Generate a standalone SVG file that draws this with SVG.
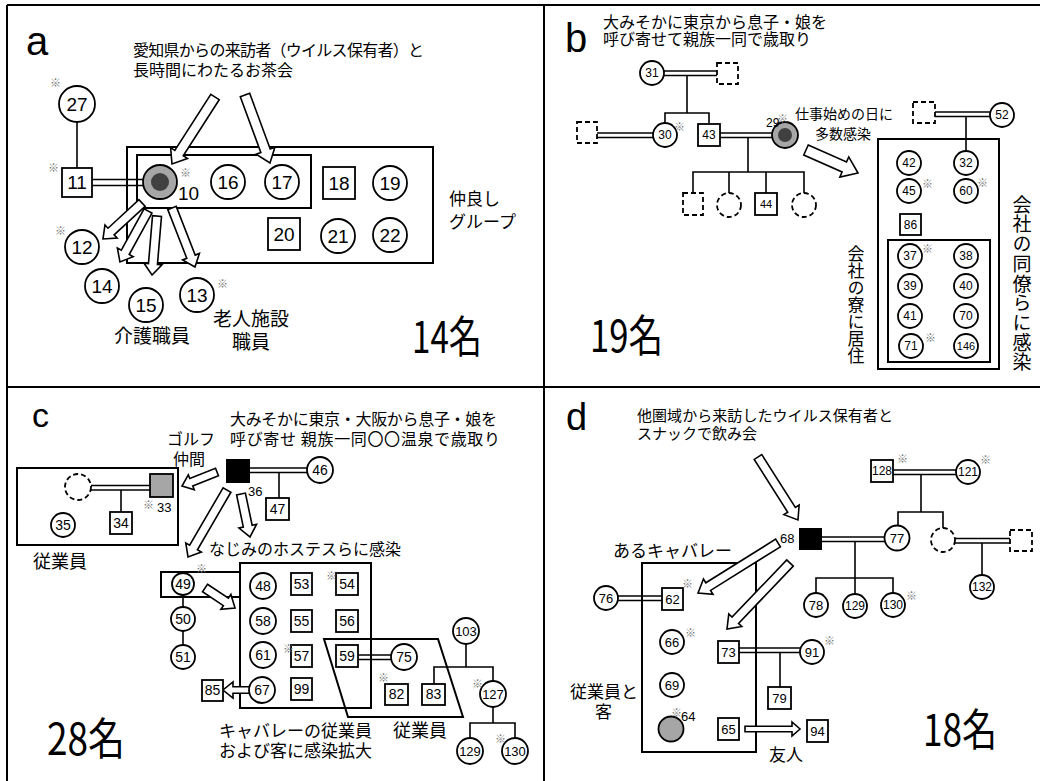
<svg xmlns="http://www.w3.org/2000/svg" width="1040" height="781" viewBox="0 0 1040 781">
<style>
.frame{stroke:#000;stroke-width:2;fill:none}
.ln{stroke:#000;stroke-width:1.6;fill:none}
.nd{fill:#fff;stroke:#000;stroke-width:1.8}
.ds{fill:#fff;stroke:#000;stroke-width:1.8;stroke-dasharray:5 3}
.bx{fill:none;stroke:#000;stroke-width:2}
.ar{fill:#fff;stroke:#000;stroke-width:1.6;stroke-linejoin:miter}
.jp{font-family:"Noto Sans CJK JP","Noto Sans",sans-serif;fill:#000}
.vt{writing-mode:vertical-rl;text-orientation:upright}
.lt{font-family:"Liberation Sans",Arial,sans-serif;fill:#000}
.num{font-family:"Liberation Sans",Arial,sans-serif;fill:#000;text-anchor:middle}
.na{font-size:19px}.nb{font-size:12px}.nc{font-size:14px}.ndd{font-size:13px}
.mk{font-family:"Noto Sans CJK JP",sans-serif;fill:#777;font-size:11px}
.big{font-family:"Noto Sans CJK JP",sans-serif;font-size:44px;fill:#000}
</style>

<g id="frame">
<line class="frame" x1="7" y1="5" x2="1040" y2="5"/>
<line class="frame" x1="7" y1="5" x2="7" y2="781"/>
<line class="frame" x1="544" y1="5" x2="544" y2="781"/>
<line class="frame" x1="7" y1="387" x2="1040" y2="387"/>
</g>

<!-- ============ Section a ============ -->
<g id="sec-a-text">
<text class="lt" x="26" y="55" font-size="40">a</text>
<text class="jp" font-size="16"><tspan x="133" y="56" textLength="291">愛知県からの来訪者（ウイルス保有者）と</tspan><tspan x="133" y="76">長時間にわたるお茶会</tspan></text>
<text class="jp" font-size="17"><tspan x="449" y="205">仲良し</tspan><tspan x="449" y="228">グループ</tspan></text>
<text class="jp" x="114" y="343" font-size="19">介護職員</text>
<text class="jp" font-size="19"><tspan x="213" y="326">老人施設</tspan><tspan x="232" y="349">職員</tspan></text>
<text class="big" x="412" y="353" textLength="70" lengthAdjust="spacingAndGlyphs">14名</text>
</g>
<g id="a-boxes">
<rect class="bx" x="127" y="147" width="306" height="116"/>
<rect class="bx" x="137" y="155" width="174" height="53"/>
</g>
<g id="a-connectors">
<line class="ln" x1="77" y1="122" x2="77" y2="168"/>
<line class="ln" x1="92" y1="179.5" x2="143" y2="179.5"/>
<line class="ln" x1="92" y1="185.5" x2="143" y2="185.5"/>
<polygon class="ar" transform="translate(215,97) rotate(122.7)" points="0,-5 66.6,-5 66.6,-10 79.6,0 66.6,10 66.6,5 0,5"/>
<polygon class="ar" transform="translate(245,95) rotate(69.8)" points="0,-5 59.4,-5 59.4,-10 72.4,0 59.4,10 59.4,5 0,5"/>
<polygon class="ar" transform="translate(142,203) rotate(137.3)" points="0,-4.5 42.1,-4.5 42.1,-9 53.1,0 42.1,9 42.1,4.5 0,4.5"/>
<polygon class="ar" transform="translate(148,211) rotate(118.8)" points="0,-4.5 47.2,-4.5 47.2,-9 58.2,0 47.2,9 47.2,4.5 0,4.5"/>
<polygon class="ar" transform="translate(157,216) rotate(94.8)" points="0,-4.5 48.2,-4.5 48.2,-9 59.2,0 48.2,9 48.2,4.5 0,4.5"/>
<polygon class="ar" transform="translate(172,208) rotate(68.7)" points="0,-4.5 52.3,-4.5 52.3,-9 63.3,0 52.3,9 52.3,4.5 0,4.5"/>
</g>
<g id="n27"><circle class="nd" cx="77" cy="104" r="18"/><text class="num na" x="77" y="111">27</text><text class="mk" x="50" y="87">※</text></g>
<g id="n11"><rect class="nd" x="62" y="168" width="30" height="29"/><text class="num na" x="77" y="189">11</text><text class="mk" x="48" y="172">※</text></g>
<g id="n10"><circle cx="160" cy="182" r="17" fill="#a6a6a6" stroke="#000" stroke-width="1.8"/><circle cx="160" cy="182" r="9" fill="#404040"/><text class="lt" x="178" y="200" font-size="19">10</text><text class="mk" x="180" y="177">※</text></g>
<g id="n16"><circle class="nd" cx="228" cy="182" r="17"/><text class="num na" x="228" y="189">16</text></g>
<g id="n17"><circle class="nd" cx="282" cy="182" r="17"/><text class="num na" x="282" y="189">17</text></g>
<g id="n18"><rect class="nd" x="323" y="167" width="32" height="32"/><text class="num na" x="339" y="190">18</text></g>
<g id="n19"><circle class="nd" cx="390" cy="183" r="17"/><text class="num na" x="390" y="190">19</text></g>
<g id="n20"><rect class="nd" x="268" y="218" width="32" height="32"/><text class="num na" x="284" y="241">20</text></g>
<g id="n21"><circle class="nd" cx="338" cy="236" r="17"/><text class="num na" x="338" y="243">21</text></g>
<g id="n22"><circle class="nd" cx="390" cy="235" r="17"/><text class="num na" x="390" y="242">22</text></g>
<g id="n12"><circle class="nd" cx="82" cy="247" r="17"/><text class="num na" x="82" y="254">12</text><text class="mk" x="55" y="235">※</text></g>
<g id="n14"><circle class="nd" cx="102" cy="286" r="17"/><text class="num na" x="102" y="293">14</text></g>
<g id="n15"><circle class="nd" cx="146" cy="305" r="17"/><text class="num na" x="146" y="312">15</text></g>
<g id="n13"><circle class="nd" cx="197" cy="295" r="17"/><text class="num na" x="197" y="302">13</text><text class="mk" x="217" y="288">※</text></g>

<!-- ============ Section b ============ -->
<g id="sec-b-text">
<text class="lt" x="565" y="52" font-size="40">b</text>
<text class="jp" font-size="16"><tspan x="603" y="28">大みそかに東京から息子・娘を</tspan><tspan x="603" y="45">呼び寄せて親族一同で歳取り</tspan></text>
<text class="jp" font-size="14"><tspan x="795" y="119">仕事始めの日に</tspan><tspan x="815" y="139">多数感染</tspan></text>
<text class="jp vt" x="856" y="245" font-size="17">会社の寮に居住</text>
<text class="jp vt" x="1022" y="195" font-size="19" letter-spacing="0.7">会社の同僚らに感染</text>
<text class="big" x="590" y="352" textLength="73" lengthAdjust="spacingAndGlyphs">19名</text>
</g>
<g id="b-boxes">
<rect class="bx" x="878" y="139" width="121" height="230"/>
<rect class="bx" x="888" y="240" width="102" height="122"/>
</g>
<g id="b-connectors">
<line class="ln" x1="664" y1="71" x2="717" y2="71"/>
<line class="ln" x1="664" y1="75.5" x2="717" y2="75.5"/>
<polyline class="ln" points="687,75.5 687,113"/>
<polyline class="ln" points="665,123 665,113 709,113 709,123"/>
<line class="ln" x1="597" y1="133" x2="653" y2="133"/>
<line class="ln" x1="597" y1="137.5" x2="653" y2="137.5"/>
<line class="ln" x1="720" y1="133" x2="772" y2="133"/>
<line class="ln" x1="720" y1="137.5" x2="772" y2="137.5"/>
<line class="ln" x1="748" y1="137.5" x2="748" y2="172"/>
<polyline class="ln" points="693,193 693,172 804,172 804,193"/>
<line class="ln" x1="729" y1="172" x2="729" y2="193"/>
<line class="ln" x1="766" y1="172" x2="766" y2="193"/>
<line class="ln" x1="935" y1="112" x2="990" y2="112"/>
<line class="ln" x1="935" y1="116.5" x2="990" y2="116.5"/>
<line class="ln" x1="966" y1="116.5" x2="966" y2="151"/>
<polygon class="ar" transform="translate(806,150) rotate(23.9)" points="0,-5.5 41.9,-5.5 41.9,-11 56.9,0 41.9,11 41.9,5.5 0,5.5"/>
</g>
<g id="n31"><circle class="nd" cx="652" cy="73" r="12"/><text class="num nb" x="652" y="77">31</text></g>
<g id="b-unk1"><rect class="ds" x="717" y="63" width="21" height="21"/></g>
<g id="b-unk2"><rect class="ds" x="577" y="122" width="20" height="21"/></g>
<g id="n30"><circle class="nd" cx="665" cy="135" r="12"/><text class="num nb" x="665" y="139">30</text><text class="mk" x="674" y="131" font-size="10">※</text></g>
<g id="n43"><rect class="nd" x="698" y="124" width="22" height="22"/><text class="num nb" x="709" y="139">43</text></g>
<g id="n29"><circle cx="785" cy="135" r="13" fill="#a6a6a6" stroke="#000" stroke-width="1.8"/><circle cx="785" cy="135" r="7" fill="#404040"/><text class="lt" x="766" y="127" font-size="12">29</text><text class="mk" x="777" y="123" font-size="10">※</text></g>
<g id="b-unk3"><rect class="ds" x="683" y="193" width="20" height="22"/></g>
<g id="b-unk4"><circle class="ds" cx="729" cy="205" r="12"/></g>
<g id="n44"><rect class="nd" x="755" y="193" width="22" height="22"/><text class="num" x="766" y="208" font-size="11">44</text></g>
<g id="b-unk5"><circle class="ds" cx="804" cy="205" r="12"/></g>
<g id="b-unk6"><rect class="ds" x="913" y="102" width="22" height="21"/></g>
<g id="n52"><circle class="nd" cx="1002" cy="115" r="12"/><text class="num nb" x="1002" y="119">52</text></g>
<g id="n42"><circle class="nd" cx="909" cy="163" r="12"/><text class="num nb" x="909" y="167">42</text></g>
<g id="n32"><circle class="nd" cx="966" cy="163" r="12"/><text class="num nb" x="966" y="167">32</text></g>
<g id="n45"><circle class="nd" cx="909" cy="191" r="12"/><text class="num nb" x="909" y="195">45</text><text class="mk" x="922" y="188" font-size="10">※</text></g>
<g id="n60"><circle class="nd" cx="966" cy="191" r="12"/><text class="num nb" x="966" y="195">60</text><text class="mk" x="977" y="187" font-size="10">※</text></g>
<g id="n86"><rect class="nd" x="900" y="214" width="21" height="21"/><text class="num nb" x="910.5" y="229">86</text></g>
<g id="n37"><circle class="nd" cx="910" cy="256" r="12"/><text class="num nb" x="910" y="260">37</text><text class="mk" x="922" y="253" font-size="10">※</text></g>
<g id="n38"><circle class="nd" cx="966" cy="256" r="12"/><text class="num nb" x="966" y="260">38</text></g>
<g id="n39"><circle class="nd" cx="910" cy="286" r="12"/><text class="num nb" x="910" y="290">39</text></g>
<g id="n40"><circle class="nd" cx="966" cy="286" r="12"/><text class="num nb" x="966" y="290">40</text></g>
<g id="n41"><circle class="nd" cx="910" cy="316" r="12"/><text class="num nb" x="910" y="320">41</text></g>
<g id="n70"><circle class="nd" cx="966" cy="316" r="12"/><text class="num nb" x="966" y="320">70</text></g>
<g id="n71"><circle class="nd" cx="911" cy="346" r="12"/><text class="num nb" x="911" y="350">71</text><text class="mk" x="925" y="342" font-size="10">※</text></g>
<g id="n146"><circle class="nd" cx="966" cy="346" r="12"/><text class="num" x="966" y="350" font-size="11">146</text></g>

<!-- ============ Section c ============ -->
<g id="sec-c-text">
<text class="lt" x="32" y="427" font-size="34">c</text>
<text class="jp" font-size="16"><tspan x="230" y="425" textLength="267">大みそかに東京・大阪から息子・娘を</tspan><tspan x="230" y="445" textLength="270">呼び寄せ 親族一同〇〇温泉で歳取り</tspan></text>
<text class="jp" font-size="16"><tspan x="167" y="445">ゴルフ</tspan><tspan x="173" y="465">仲間</tspan></text>
<text class="jp" x="33" y="568" font-size="18">従業員</text>
<text class="jp" x="209" y="555" font-size="16">なじみのホステスらに感染</text>
<text class="jp" font-size="17"><tspan x="219" y="737">キャバレーの従業員</tspan><tspan x="219" y="757">および客に感染拡大</tspan></text>
<text class="jp" x="393" y="737" font-size="18">従業員</text>
<text class="big" x="47" y="755" textLength="78" lengthAdjust="spacingAndGlyphs">28名</text>
</g>
<g id="c-boxes">
<rect class="bx" x="17" y="468" width="161" height="77"/>
<rect class="bx" x="161" y="572" width="79" height="25"/>
<rect class="bx" x="240" y="563" width="131" height="145"/>
<polygon class="bx" points="324,639 438,639 463,717 348,717"/>
</g>
<g id="c-connectors">
<line class="ln" x1="250" y1="468" x2="307" y2="468"/>
<line class="ln" x1="250" y1="472.5" x2="307" y2="472.5"/>
<line class="ln" x1="279" y1="472.5" x2="279" y2="498"/>
<line class="ln" x1="91" y1="485.5" x2="150" y2="485.5"/>
<line class="ln" x1="91" y1="490" x2="150" y2="490"/>
<line class="ln" x1="121" y1="490" x2="121" y2="512"/>
<line class="ln" x1="183" y1="595" x2="183" y2="607"/>
<line class="ln" x1="183" y1="631" x2="183" y2="645"/>
<line class="ln" x1="358" y1="655" x2="391" y2="655"/>
<line class="ln" x1="358" y1="659.5" x2="391" y2="659.5"/>
<line class="ln" x1="466" y1="644" x2="466" y2="667"/>
<polyline class="ln" points="434,684 434,667 493,667 493,681"/>
<line class="ln" x1="493" y1="707" x2="493" y2="723"/>
<polyline class="ln" points="470,738 470,723 515,723 515,738"/>
<polygon class="ar" transform="translate(217,472) rotate(158.2)" points="0,-4 27.7,-4 27.7,-8 37.7,0 27.7,8 27.7,4 0,4"/>
<polygon class="ar" transform="translate(227,490) rotate(120.2)" points="0,-4.5 66.5,-4.5 66.5,-9 77.5,0 66.5,9 66.5,4.5 0,4.5"/>
<polygon class="ar" transform="translate(241,494) rotate(78.2)" points="0,-4.5 32.9,-4.5 32.9,-9 43.9,0 32.9,9 32.9,4.5 0,4.5"/>
<polygon class="ar" transform="translate(205,588) rotate(33.7)" points="0,-4.5 25.1,-4.5 25.1,-9 36.1,0 25.1,9 25.1,4.5 0,4.5"/>
<polygon class="ar" transform="translate(250,690) rotate(180)" points="0,-3.3 17,-3.3 17,-8 27,0 17,8 17,3.3 0,3.3"/>
</g>
<g id="n36"><rect x="226" y="459" width="24" height="24" fill="#000"/><text class="lt" x="248" y="496" font-size="13">36</text></g>
<g id="n46"><circle class="nd" cx="320" cy="470" r="13"/><text class="num nc" x="320" y="475">46</text></g>
<g id="n47"><rect class="nd" x="266" y="498" width="23" height="22"/><text class="num nc" x="277.5" y="514">47</text></g>
<g id="c-unk1"><circle class="ds" cx="78" cy="487" r="13"/></g>
<g id="n33"><rect x="150" y="474" width="23" height="23" fill="#a6a6a6" stroke="#000" stroke-width="1.8"/><text class="lt" x="157" y="512" font-size="13">33</text><text class="mk" x="143" y="509" font-size="10">※</text></g>
<g id="n34"><rect class="nd" x="110" y="512" width="22" height="22"/><text class="num nc" x="121" y="528">34</text></g>
<g id="n35"><circle class="nd" cx="63" cy="525" r="12"/><text class="num nc" x="63" y="530">35</text></g>
<g id="n49"><circle class="nd" cx="183" cy="584" r="11"/><text class="num nc" x="183" y="589">49</text><text class="mk" x="196" y="573" font-size="10">※</text></g>
<g id="n50"><circle class="nd" cx="183" cy="619" r="12"/><text class="num nc" x="183" y="624">50</text></g>
<g id="n51"><circle class="nd" cx="183" cy="657" r="12"/><text class="num nc" x="183" y="662">51</text></g>
<g id="n48"><circle class="nd" cx="263" cy="586" r="13"/><text class="num nc" x="263" y="591">48</text></g>
<g id="n53"><rect class="nd" x="291" y="573" width="21" height="22"/><text class="num nc" x="301.5" y="589">53</text></g>
<g id="n54"><rect class="nd" x="336" y="573" width="22" height="22"/><text class="num nc" x="347" y="589">54</text><text class="mk" x="326" y="580" font-size="10">※</text></g>
<g id="n58"><circle class="nd" cx="263" cy="621" r="13"/><text class="num nc" x="263" y="626">58</text></g>
<g id="n55"><rect class="nd" x="291" y="610" width="21" height="22"/><text class="num nc" x="301.5" y="626">55</text></g>
<g id="n56"><rect class="nd" x="336" y="610" width="22" height="22"/><text class="num nc" x="347" y="626">56</text></g>
<g id="n61"><circle class="nd" cx="263" cy="655" r="13"/><text class="num nc" x="263" y="660">61</text></g>
<g id="n57"><rect class="nd" x="291" y="645" width="21" height="22"/><text class="num nc" x="301.5" y="661">57</text><text class="mk" x="283" y="653" font-size="10">※</text></g>
<g id="n59"><rect class="nd" x="336" y="645" width="22" height="22"/><text class="num nc" x="347" y="661">59</text></g>
<g id="n67"><circle class="nd" cx="262" cy="690" r="13"/><text class="num nc" x="262" y="695">67</text></g>
<g id="n99"><rect class="nd" x="291" y="678" width="21" height="22"/><text class="num nc" x="301.5" y="694">99</text></g>
<g id="n85"><rect class="nd" x="202" y="680" width="21" height="21"/><text class="num nc" x="212.5" y="695">85</text></g>
<g id="n75"><circle class="nd" cx="404" cy="657" r="13"/><text class="num nc" x="404" y="662">75</text></g>
<g id="n82"><rect class="nd" x="385" y="684" width="23" height="21"/><text class="num nc" x="396.5" y="699">82</text><text class="mk" x="378" y="682" font-size="10">※</text></g>
<g id="n83"><rect class="nd" x="422" y="684" width="23" height="21"/><text class="num nc" x="433.5" y="699">83</text></g>
<g id="n103"><circle class="nd" cx="466" cy="631" r="13"/><text class="num" x="466" y="636" font-size="13">103</text></g>
<g id="n127"><circle class="nd" cx="493" cy="694" r="13"/><text class="num" x="493" y="699" font-size="13">127</text><text class="mk" x="472" y="688" font-size="10">※</text></g>
<g id="n129c"><circle class="nd" cx="470" cy="751" r="13"/><text class="num" x="470" y="756" font-size="13">129</text></g>
<g id="n130c"><circle class="nd" cx="515" cy="751" r="13"/><text class="num" x="515" y="756" font-size="13">130</text><text class="mk" x="495" y="743" font-size="10">※</text></g>

<!-- ============ Section d ============ -->
<g id="sec-d-text">
<text class="lt" x="566" y="430" font-size="38">d</text>
<text class="jp" font-size="15"><tspan x="637" y="421" textLength="256">他圏域から来訪したウイルス保有者と</tspan><tspan x="637" y="439">スナックで飲み会</tspan></text>
<text class="jp" x="613" y="557" font-size="17">あるキャバレー</text>
<text class="jp" font-size="17"><tspan x="570" y="698">従業員と</tspan><tspan x="595" y="718">客</tspan></text>
<text class="jp" x="769" y="761" font-size="17">友人</text>
<text class="big" x="923" y="746" textLength="74" lengthAdjust="spacingAndGlyphs">18名</text>
</g>
<g id="d-boxes">
<rect class="bx" x="642" y="563" width="114" height="189"/>
</g>
<g id="d-connectors">
<line class="ln" x1="822" y1="537" x2="885" y2="537"/>
<line class="ln" x1="822" y1="541.5" x2="885" y2="541.5"/>
<line class="ln" x1="855" y1="541.5" x2="855" y2="578"/>
<polyline class="ln" points="816,593 816,578 893,578 893,593"/>
<line class="ln" x1="855" y1="578" x2="855" y2="594"/>
<line class="ln" x1="893" y1="470" x2="956" y2="470"/>
<line class="ln" x1="893" y1="474.5" x2="956" y2="474.5"/>
<line class="ln" x1="921" y1="474.5" x2="921" y2="512"/>
<polyline class="ln" points="898,526 898,512 943,512 943,528"/>
<line class="ln" x1="955" y1="538.5" x2="1010" y2="538.5"/>
<line class="ln" x1="955" y1="543" x2="1010" y2="543"/>
<line class="ln" x1="982" y1="543" x2="982" y2="575"/>
<line class="ln" x1="618" y1="596" x2="662" y2="596"/>
<line class="ln" x1="618" y1="600.5" x2="662" y2="600.5"/>
<line class="ln" x1="739" y1="648" x2="800" y2="648"/>
<line class="ln" x1="739" y1="652.5" x2="800" y2="652.5"/>
<line class="ln" x1="780" y1="652.5" x2="780" y2="687"/>
<polygon class="ar" transform="translate(758,457) rotate(57.6)" points="0,-4.5 62.6,-4.5 62.6,-9 74.6,0 62.6,9 62.6,4.5 0,4.5"/>
<polygon class="ar" transform="translate(778,543) rotate(148)" points="0,-4.5 82.3,-4.5 82.3,-9 94.3,0 82.3,9 82.3,4.5 0,4.5"/>
<polygon class="ar" transform="translate(790,563) rotate(133.7)" points="0,-4.5 79.2,-4.5 79.2,-9 91.2,0 79.2,9 79.2,4.5 0,4.5"/>
<polygon class="ar" transform="translate(745,729)" points="0,-2.8 47,-2.8 47,-7 55,0 47,7 47,2.8 0,2.8"/>
</g>
<g id="n68"><rect x="799" y="528" width="23" height="22" fill="#000"/><text class="lt" x="780" y="543" font-size="13">68</text></g>
<g id="n77"><circle class="nd" cx="897" cy="538" r="12.5"/><text class="num ndd" x="897" y="543">77</text></g>
<g id="n78"><circle class="nd" cx="816" cy="605" r="12"/><text class="num ndd" x="816" y="610">78</text></g>
<g id="n129d"><circle class="nd" cx="855" cy="606" r="12"/><text class="num" x="855" y="610" font-size="12">129</text></g>
<g id="n130d"><circle class="nd" cx="893" cy="605" r="12"/><text class="num" x="893" y="609" font-size="12">130</text><text class="mk" x="906" y="600" font-size="10">※</text></g>
<g id="n128"><rect class="nd" x="871" y="460" width="22" height="22"/><text class="num" x="882" y="475" font-size="12">128</text><text class="mk" x="897" y="463" font-size="10">※</text></g>
<g id="n121"><circle class="nd" cx="968" cy="472" r="12"/><text class="num" x="968" y="476" font-size="12">121</text><text class="mk" x="980" y="464" font-size="10">※</text></g>
<g id="d-unk1"><circle class="ds" cx="943" cy="540" r="12"/></g>
<g id="d-unk2"><rect class="ds" x="1010" y="530" width="22" height="21"/></g>
<g id="n132"><circle class="nd" cx="982" cy="587" r="12"/><text class="num" x="982" y="591" font-size="12">132</text></g>
<g id="n76"><circle class="nd" cx="606" cy="598" r="12"/><text class="num ndd" x="606" y="603">76</text></g>
<g id="n62"><rect class="nd" x="662" y="588" width="21" height="22"/><text class="num ndd" x="672.5" y="604">62</text><text class="mk" x="682" y="588" font-size="10">※</text></g>
<g id="n66"><circle class="nd" cx="672" cy="642" r="12"/><text class="num ndd" x="672" y="647">66</text><text class="mk" x="685" y="637" font-size="10">※</text></g>
<g id="n69"><circle class="nd" cx="672" cy="685" r="12"/><text class="num ndd" x="672" y="690">69</text></g>
<g id="n64"><circle cx="671" cy="729" r="12.5" fill="#a6a6a6" stroke="#000" stroke-width="1.8"/><text class="mk" x="671" y="717" font-size="10">※</text><text class="lt" x="681" y="721" font-size="13">64</text></g>
<g id="n73"><rect class="nd" x="718" y="641" width="21" height="22"/><text class="num ndd" x="728.5" y="657">73</text></g>
<g id="n91"><circle class="nd" cx="812" cy="652" r="12"/><text class="num ndd" x="812" y="657">91</text><text class="mk" x="824" y="645" font-size="10">※</text></g>
<g id="n79"><rect class="nd" x="768" y="687" width="23" height="22"/><text class="num ndd" x="779.5" y="703">79</text></g>
<g id="n65"><rect class="nd" x="718" y="718" width="21" height="22"/><text class="num ndd" x="728.5" y="734">65</text></g>
<g id="n94"><rect class="nd" x="807" y="720" width="21" height="22"/><text class="num ndd" x="817.5" y="736">94</text></g>
</svg>
